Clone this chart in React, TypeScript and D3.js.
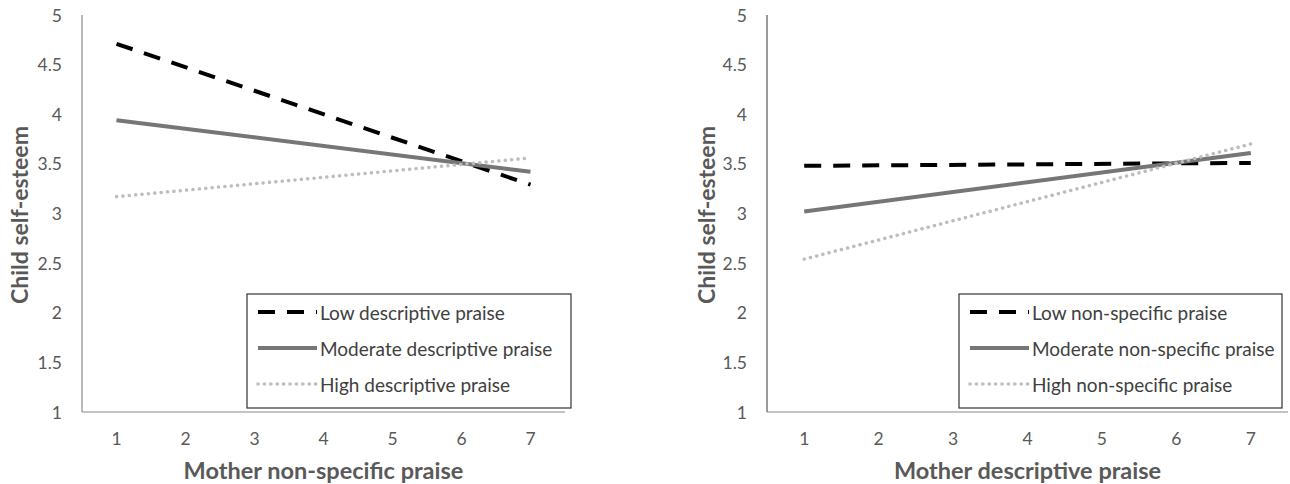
import * as d3 from 'd3';

// Excel-style category axis, values 1..7
const categories = ['1', '2', '3', '4', '5', '6', '7'];
const yTicks = [1, 1.5, 2, 2.5, 3, 3.5, 4, 4.5, 5];

// simple slopes: value at x = 1 and x = 7
const endpoints = ['1', '7'];

const leftLow = [4.71, 3.29];
const leftModerate = [3.94, 3.42];
const leftHigh = [3.17, 3.56];

const rightLow = [3.48, 3.51];
const rightModerate = [3.02, 3.61];
const rightHigh = [2.54, 3.70];

const leftNames = ['Low descriptive praise', 'Moderate descriptive praise', 'High descriptive praise'];
const rightNames = ['Low non-specific praise', 'Moderate non-specific praise', 'High non-specific praise'];

const FONT = 'Lato, "Open Sans", sans-serif';

const styles = [
  { stroke: '#000', width: 4, dash: '17,12', cap: 'butt' },
  { stroke: '#767676', width: 4, dash: null, cap: 'butt' },
  { stroke: '#bdbdbd', width: 3.5, dash: '0.1,6.3', cap: 'round' },
];

function Panel({ x0, x1, axisX, series, names, xTitle, legend, axisColor }) {
  const top = 15;
  const bottom = 412;
  const x = d3.scaleBand().domain(categories).range([x0, x1]).padding(0);
  const y = d3.scaleLinear().domain([1, 5]).range([bottom, top]);
  const cx = (c) => x(c) + x.bandwidth() / 2;
  const line = d3.line().x((d) => cx(d[0])).y((d) => y(d[1]));

  return (
    <g fontFamily={FONT}>
      {/* axis lines */}
      <line x1={x0} x2={x0} y1={top} y2={bottom} stroke={axisColor} strokeWidth={1.2} />
      <line x1={x0} x2={x1} y1={bottom} y2={bottom} stroke="#8a8a8a" strokeWidth={1.2} />

      {yTicks.map((t) => (
        <text key={t} x={x0 - 20} y={y(t)} textAnchor="end" dominantBaseline="central" fontSize={17.5} fill="#595959">
          {t}
        </text>
      ))}
      {categories.map((c) => (
        <text key={c} x={cx(c)} y={438} textAnchor="middle" dominantBaseline="central" fontSize={17.5} fill="#595959">
          {c}
        </text>
      ))}

      <text x={(x0 + x1) / 2} y={470} textAnchor="middle" dominantBaseline="central" fontSize={23.5} fontWeight="bold" fill="#595959">
        {xTitle}
      </text>
      <text transform={`translate(${axisX},215) rotate(-90)`} textAnchor="middle" dominantBaseline="central" fontSize={23} fontWeight="bold" fill="#595959">
        Child self-esteem
      </text>

      {series.map((vals, i) => (
        <path
          key={i}
          d={line(endpoints.map((c, j) => [c, vals[j]]))}
          fill="none"
          stroke={styles[i].stroke}
          strokeWidth={styles[i].width}
          strokeDasharray={styles[i].dash || undefined}
          strokeLinecap={styles[i].cap}
        />
      ))}

      {/* legend */}
      <rect x={legend.x} y={294} width={legend.w} height={114} fill="#fff" stroke="#333" strokeWidth={1.2} />
      {names.map((n, i) => {
        const ly = 312 + i * 36;
        return (
          <g key={n}>
            <line
              x1={legend.x + 11}
              x2={legend.x + 70}
              y1={ly}
              y2={ly}
              stroke={styles[i].stroke}
              strokeWidth={styles[i].width}
              strokeDasharray={styles[i].dash || undefined}
              strokeLinecap={styles[i].cap}
            />
            <text x={legend.x + 73} y={ly} dominantBaseline="central" fontSize={19} fill="#404040">
              {n}
            </text>
          </g>
        );
      })}
    </g>
  );
}

export default function App() {
  return (
    <svg width={1290} height={484} style={{ position: 'absolute', left: 0, top: 0, background: '#fff' }}>
      <rect width={1290} height={484} fill="#fff" />
      <Panel
        x0={82}
        x1={565}
        axisX={19}
        series={[leftLow, leftModerate, leftHigh]}
        names={leftNames}
        xTitle="Mother non-specific praise"
        legend={{ x: 247, w: 324 }}
        axisColor="#8a8a8a"
      />
      <Panel
        x0={767}
        x1={1288}
        axisX={706}
        series={[rightLow, rightModerate, rightHigh]}
        names={rightNames}
        xTitle="Mother descriptive praise"
        legend={{ x: 959, w: 323 }}
        axisColor="#555"
      />
    </svg>
  );
}
